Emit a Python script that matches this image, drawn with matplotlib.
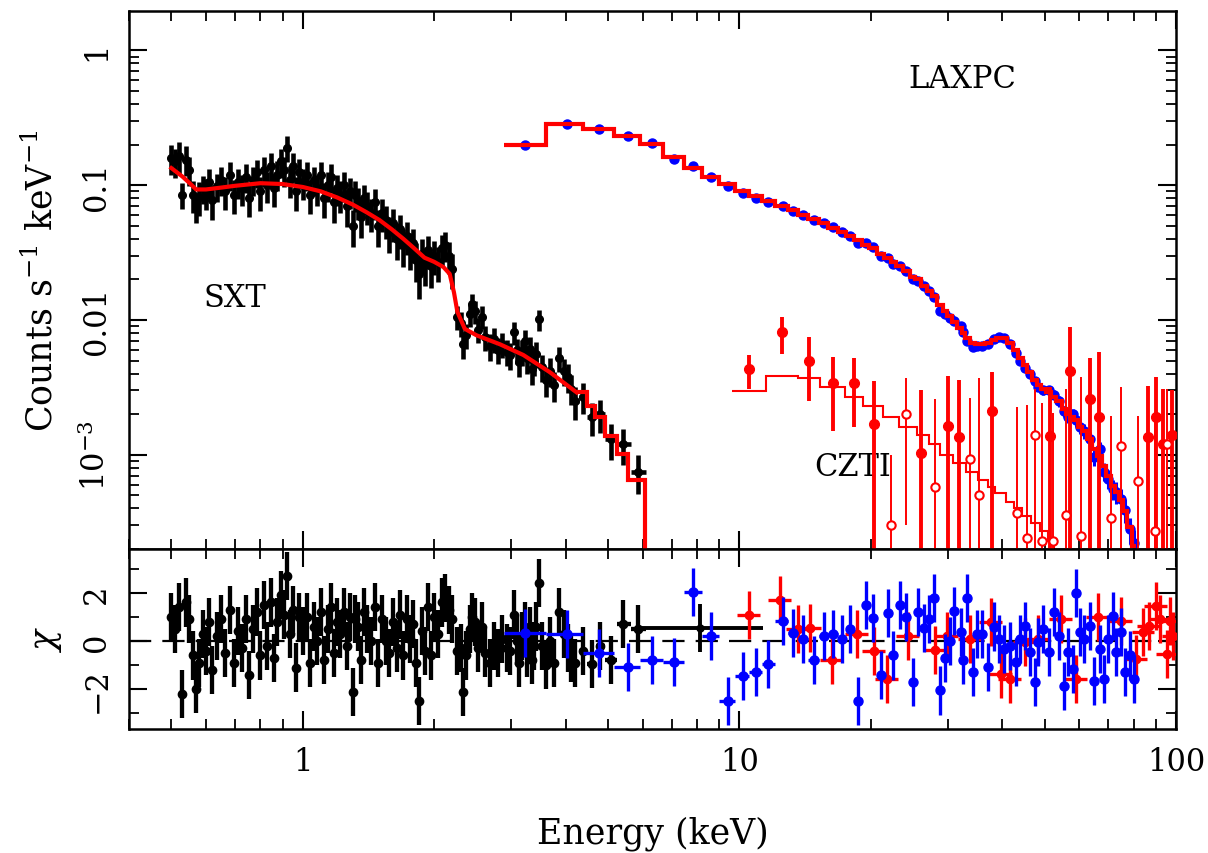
import numpy as np
import matplotlib.pyplot as plt
from matplotlib.ticker import NullFormatter, MultipleLocator

plt.rcParams['font.family'] = 'DejaVu Serif'
plt.rcParams['mathtext.fontset'] = 'dejavuserif'

# ---------------- SXT (black) ----------------
sxt_e = [0.50, 0.51, 0.52, 0.53, 0.54, 0.55, 0.56, 0.57, 0.58, 0.59,
         0.60, 0.61, 0.62, 0.635, 0.65, 0.665, 0.68, 0.695, 0.71, 0.725,
         0.74, 0.755, 0.77, 0.785, 0.80, 0.815, 0.83, 0.845, 0.86, 0.875,
         0.89, 0.905, 0.92, 0.935, 0.95, 0.965, 0.98, 1.00, 1.02, 1.04,
         1.06, 1.08, 1.10, 1.12, 1.14, 1.16, 1.18, 1.20, 1.22, 1.24,
         1.26, 1.28, 1.30, 1.32, 1.34, 1.36, 1.38, 1.40, 1.43, 1.46,
         1.49, 1.52, 1.55, 1.58, 1.61, 1.64, 1.67, 1.70, 1.73, 1.76,
         1.79, 1.82, 1.85, 1.88, 1.91, 1.94, 1.97, 2.00, 2.04, 2.08,
         2.12, 2.16, 2.20,
         2.26, 2.30, 2.33, 2.37, 2.41, 2.44, 2.48, 2.52, 2.57, 2.62,
         2.68, 2.74, 2.80, 2.86, 2.93, 2.99, 3.04, 3.09, 3.13, 3.18,
         3.23, 3.27, 3.31, 3.35, 3.39, 3.43, 3.47, 3.54, 3.61, 3.69,
         3.77, 3.87, 3.96, 4.04, 4.12, 4.20, 4.38, 4.59, 4.79, 5.08,
         5.41, 5.87]
sxt_flux = [0.16, 0.15, 0.165, 0.085, 0.155, 0.13, 0.085, 0.07, 0.082, 0.095,
            0.088, 0.105, 0.078, 0.098, 0.11, 0.09, 0.12, 0.085, 0.105, 0.095,
            0.115, 0.08, 0.11, 0.125, 0.09, 0.13, 0.10, 0.14, 0.095, 0.12,
            0.15, 0.13, 0.19, 0.11, 0.14, 0.09, 0.125, 0.105, 0.12, 0.085,
            0.11, 0.095, 0.12, 0.08, 0.10, 0.115, 0.075, 0.095, 0.085, 0.10,
            0.07, 0.09, 0.05, 0.085, 0.075, 0.058, 0.08, 0.07, 0.062, 0.075,
            0.05, 0.062, 0.055, 0.045, 0.052, 0.04, 0.047, 0.036, 0.042, 0.034,
            0.037, 0.028, 0.022, 0.031, 0.026, 0.033, 0.025, 0.030, 0.027, 0.034,
            0.036, 0.030, 0.024,
            0.0106, 0.0095, 0.0066, 0.0077, 0.0110, 0.0132, 0.0116, 0.0085, 0.0106, 0.0075,
            0.0064, 0.0072, 0.0060, 0.0066, 0.0058, 0.0055, 0.0081, 0.0060, 0.0049, 0.0058,
            0.0070, 0.0052, 0.0061, 0.0043, 0.0050, 0.0056, 0.0101, 0.0045, 0.0036, 0.0042,
            0.0033, 0.0052, 0.0042, 0.0038, 0.0031, 0.0025, 0.0027, 0.0019, 0.0020, 0.0013,
            0.0012, 0.00075]
sxt_relerr = [0.25, 0.24, 0.26, 0.22, 0.25, 0.24, 0.27, 0.25, 0.28, 0.24,
              0.26, 0.25, 0.29, 0.24, 0.25, 0.27, 0.24, 0.28, 0.25, 0.26,
              0.24, 0.27, 0.25, 0.24, 0.28, 0.25, 0.26, 0.24, 0.27, 0.25,
              0.24, 0.25, 0.22, 0.27, 0.24, 0.28, 0.25, 0.26, 0.24, 0.28,
              0.25, 0.26, 0.24, 0.29, 0.25, 0.24, 0.30, 0.26, 0.27, 0.25,
              0.30, 0.26, 0.30, 0.26, 0.27, 0.30, 0.25, 0.27, 0.28, 0.26,
              0.30, 0.27, 0.28, 0.30, 0.27, 0.30, 0.28, 0.31, 0.28, 0.31,
              0.29, 0.32, 0.35, 0.29, 0.31, 0.28, 0.31, 0.28, 0.29, 0.26,
              0.25, 0.27, 0.29,
              0.20, 0.21, 0.22, 0.21, 0.19, 0.18, 0.19, 0.21, 0.19, 0.21,
              0.22, 0.21, 0.22, 0.21, 0.22, 0.22, 0.19, 0.21, 0.23, 0.22,
              0.21, 0.23, 0.22, 0.24, 0.23, 0.22, 0.18, 0.23, 0.25, 0.24,
              0.25, 0.21, 0.23, 0.24, 0.25, 0.27, 0.26, 0.28, 0.27, 0.30,
              0.30, 0.32]
sxt_chi = [1.0, 0.5, 1.4, -2.2, 1.6, 0.9, -0.6, -2.0, -0.9, 0.3,
           -0.4, 0.8, -1.2, 0.2, 0.9, -0.5, 1.3, -0.9, 0.4, -0.3,
           0.9, -1.4, 0.5, 1.2, -0.6, 1.5, -0.2, 1.6, -0.7, 0.8,
           1.9, 1.1, 2.7, 0.3, 1.3, -1.1, 1.0, 0.4, 1.0, -0.9,
           0.6, 0.0, 1.2, -0.8, 0.5, 1.4, -0.5, 0.8, 0.3, 1.2,
           -0.2, 1.0, -2.1, 0.9, 0.6, -0.8, 1.2, 0.5, 0.0, 1.4,
           -0.9, 0.9, 0.0, -0.5, 0.8, -0.3, 1.1, -0.6, 0.9, 0.1,
           0.7, -0.9, -2.5, 0.4, -0.4, 1.4, -0.6, 1.0, 0.3, 1.6,
           1.8, 1.3, 0.9,
           -0.4, -0.3, -2.1, -0.6, 0.5, 1.0, 0.8, -0.3, 0.6, -0.5,
           -0.9, -0.2, -0.5, 0.1, -0.3, -0.4, 1.1, 0.0, -0.9, 0.2,
           0.6, -0.5, 0.4, -0.8, -0.2, 0.6, 2.4, -0.2, -1.0, 0.0,
           -0.9, 1.2, 0.3, -0.3, -0.7, -0.9, -0.4, -0.95, -0.2, -0.8,
           0.7, 0.5]
# last, very wide SXT bin (only seen in the residuals)
sxt_wide_lo, sxt_wide_hi, sxt_wide_chi = 5.85, 11.3, 0.55

sxt_model_e = [0.50, 0.53, 0.55, 0.57, 0.60, 0.65, 0.70, 0.80, 0.90, 1.00,
               1.10, 1.20, 1.30, 1.40, 1.50, 1.60, 1.70, 1.80, 1.90, 2.00,
               2.10, 2.17, 2.22, 2.26, 2.35, 2.50, 2.83, 3.20, 3.68, 4.24]
sxt_model_y = [0.134, 0.116, 0.104, 0.093, 0.093, 0.096, 0.099, 0.1035, 0.102, 0.097,
               0.090, 0.081, 0.072, 0.063, 0.055, 0.047, 0.040, 0.034, 0.029, 0.027,
               0.0247, 0.022, 0.016, 0.0115, 0.0086, 0.0077, 0.0066, 0.0055, 0.0041, 0.0029]
sxt_step_edges = [4.24, 4.47, 4.66, 4.92, 5.25, 5.55, 6.08, 6.3]
sxt_step_y = [0.0029, 0.0023, 0.0019, 0.00138, 0.00102, 0.00065, 1e-7]

# ---------------- LAXPC (blue) ----------------
lax_e = [3.23, 4.03, 4.77, 5.57, 6.3, 7.1, 7.85, 8.6, 9.4, 10.2,
         10.9, 11.6, 12.6, 13.3, 14.0, 14.8, 15.6, 16.4, 17.2, 17.9,
         18.7, 19.5, 20.2, 21.1, 21.9, 22.5, 23.3, 24.1, 25.0, 25.6,
         26.5, 27.2, 27.9, 28.8, 29.6, 30.3, 31.0, 32.1, 32.6, 33.2,
         34.2, 35.1, 36.0, 37.2, 38.2, 39.3, 40.3, 41.7, 42.9, 44.0,
         45.2, 46.2, 47.6, 48.4, 49.7, 51.1, 52.5, 54.0, 55.4, 56.6,
         58.0, 59.1, 60.2, 61.7, 63.5, 65.0, 67.0, 68.3, 69.9, 71.8,
         73.0, 75.0, 76.5, 78.3, 80.0]
lax_flux = [0.200, 0.285, 0.260, 0.233, 0.205, 0.157, 0.138, 0.115, 0.098, 0.087,
            0.080, 0.075, 0.070, 0.064, 0.060, 0.055, 0.052, 0.049, 0.045, 0.042,
            0.037, 0.037, 0.035, 0.030, 0.029, 0.026, 0.025, 0.023, 0.020, 0.0195,
            0.018, 0.0165, 0.0148, 0.0117, 0.0110, 0.0103, 0.0098, 0.0090, 0.0082, 0.0070,
            0.0063, 0.0064, 0.0064, 0.0066, 0.0072, 0.0075, 0.0073, 0.0066, 0.0057, 0.0050,
            0.0044, 0.0040, 0.0035, 0.0032, 0.0030, 0.0030, 0.0028, 0.0025, 0.0021, 0.0019,
            0.0020, 0.0018, 0.0016, 0.0015, 0.0013, 0.00096, 0.0011, 0.00075, 0.00066, 0.00056,
            0.00053, 0.00047, 0.00039, 0.00028, 0.00022]
lax_relerr = [0.02, 0.02, 0.02, 0.02, 0.02, 0.02, 0.02, 0.02, 0.02, 0.02,
              0.02, 0.02, 0.02, 0.02, 0.02, 0.03, 0.03, 0.03, 0.03, 0.03,
              0.03, 0.03, 0.03, 0.03, 0.03, 0.04, 0.04, 0.04, 0.04, 0.04,
              0.05, 0.05, 0.05, 0.05, 0.05, 0.05, 0.05, 0.05, 0.05, 0.05,
              0.05, 0.05, 0.05, 0.05, 0.05, 0.05, 0.05, 0.05, 0.06, 0.06,
              0.06, 0.07, 0.07, 0.07, 0.08, 0.08, 0.08, 0.09, 0.09, 0.10,
              0.10, 0.11, 0.11, 0.12, 0.13, 0.14, 0.14, 0.15, 0.16, 0.17,
              0.18, 0.19, 0.20, 0.22, 0.25]
lax_model = [0.200, 0.285, 0.263, 0.233, 0.202, 0.161, 0.134, 0.116, 0.102, 0.0907,
             0.083, 0.077, 0.070, 0.065, 0.060, 0.056, 0.052, 0.048, 0.045, 0.042,
             0.039, 0.036, 0.034, 0.031, 0.029, 0.027, 0.025, 0.023, 0.021, 0.020,
             0.018, 0.0165, 0.0150, 0.0130, 0.0117, 0.0107, 0.0097, 0.0087, 0.0080, 0.0073,
             0.0068, 0.0066, 0.0066, 0.0068, 0.0071, 0.0073, 0.0073, 0.0068, 0.0060, 0.0052,
             0.0046, 0.0041, 0.0036, 0.0033, 0.0031, 0.0029, 0.0027, 0.0025, 0.0022, 0.0020,
             0.0019, 0.0018, 0.0016, 0.0015, 0.0013, 0.0011, 0.00098, 0.00082, 0.00070, 0.00059,
             0.00053, 0.00046, 0.00038, 0.00029, 0.00021]
lax_chi = [0.33, 0.3, -0.5, -1.07, -0.8, -0.87, 2.05, 0.2, -2.5, -1.45,
           -1.3, -0.95, 0.83, 0.33, 0.1, -0.8, 0.2, 0.3, 0.1, 0.5,
           -2.5, 1.5, 0.95, -1.4, 1.15, -0.6, 1.5, 1.0, -1.7, 1.2,
           0.55, 0.9, 1.8, -2.05, -0.7, 0.0, 1.25, 0.37, -0.8, 1.8,
           -1.3, 0.3, 0.3, -1.07, 0.6, 0.1, -0.33, -0.2, -0.87, 0.08,
           0.62, -0.45, -1.7, -0.05, 0.5, -0.45, 1.2, 0.2, -1.85, -0.45,
           -1.15, 2.0, 0.37, 0.08, 0.62, -1.65, -0.33, -1.57, 0.08, 1.03,
           -0.45, 0.37, -1.3, -0.6, -1.57]

# ---------------- CZTI (red) ----------------
# two CZTI spectra: filled symbols (a) and open symbols (b)
czti_a_e = [10.5, 12.5, 14.4, 16.4, 18.3, 20.3, 26.0, 30.0, 31.8, 37.9,
            51.4, 57.3, 63.4, 66.7, 86.5, 90.0, 93.5, 98.0]
czti_a_flux = [0.0043, 0.0081, 0.0050, 0.0034, 0.0034, 0.0017, 0.00103, 0.00163, 0.00136, 0.0021,
               0.00137, 0.0042, 0.0026, 0.0019, 0.00135, 0.0019, 0.0012, 0.0014]
czti_a_err = [0.0012, 0.0025, 0.0025, 0.0019, 0.0018, 0.0018, 0.0020, 0.0022, 0.0022, 0.0020,
              0.0018, 0.0047, 0.0026, 0.0039, 0.0019, 0.0019, 0.0019, 0.0016]
czti_b_e = [22.2, 24.1, 28.0, 33.7, 35.3, 43.2, 45.5, 47.5, 49.3, 52.4,
            56.0, 60.7, 71.0, 74.9, 82.0, 89.5, 95.5]
czti_b_flux = [0.0003, 0.0020, 0.00058, 0.00093, 0.0005, 0.00037, 0.00024, 0.0014, 0.00023, 0.00023,
               0.00036, 0.00025, 0.00034, 0.00117, 0.00064, 0.00027, 0.0012]
czti_b_err = [0.0007, 0.0017, 0.0020, 0.0017, 0.0032, 0.0019, 0.0021, 0.0017, 0.0022, 0.0018,
              0.0027, 0.0035, 0.0016, 0.0020, 0.0013, 0.0016, 0.0019]
czti_model_edges = [9.63, 11.5, 13.6, 15.3, 17.5, 19.2, 21.3, 23.2, 25.5, 27.2, 28.8, 30.8,
                    33.0, 35.2, 37.1, 38.6, 40.7, 42.5, 44.5, 46.5, 48.8, 50.8, 52.5, 54.5]
czti_model_y = [0.00295, 0.00382, 0.0037, 0.0032, 0.0027, 0.0023, 0.0019, 0.0016, 0.0014, 0.0012,
                0.0010, 0.00087, 0.00075, 0.00065, 0.00058, 0.00052, 0.00045, 0.00040, 0.00035,
                0.00031, 0.00027, 0.00023, 0.00019]
czti_res_e = [10.5, 12.4, 13.6, 14.5, 16.3, 18.6, 20.3, 21.8, 24.3, 28.1,
              29.9, 33.7, 37.6, 39.7, 41.7, 45.0, 48.4, 54.5, 59.1, 66.3,
              74.9, 80.9, 84.2, 86.8, 89.8, 92.0, 95.5, 97.0, 98.6]
czti_res_chi = [1.07, 1.7, 0.5, 0.55, -0.8, 0.3, -0.4, -1.57, 0.2, -0.37,
                0.2, 0.08, 0.78, -1.36, -1.57, -0.05, 0.08, 0.9, -1.57, 1.0,
                0.83, -0.75, 0.37, 0.62, 1.45, 0.9, -0.54, 0.83, 0.2]
CZTI_BIN_FRAC = 0.06


def log_edges(e):
    e = np.asarray(e, float)
    mid = np.sqrt(e[:-1] * e[1:])
    return np.concatenate([[e[0] ** 2 / mid[0]], mid, [e[-1] ** 2 / mid[-1]]])


def halfwidths(e):
    e = np.asarray(e, float)
    ed = log_edges(e)
    return [e - ed[:-1], ed[1:] - e]


def log_err(flux, err):
    flux = np.asarray(flux, float)
    err = np.asarray(err, float)
    return [np.minimum(err, flux * 0.9999), err]


fig = plt.figure(figsize=(12.08, 8.54), dpi=100)
ax = fig.add_axes([0.1068, 0.356, 0.8667, 0.6299])
axr = fig.add_axes([0.1068, 0.1452, 0.8667, 0.2108], sharex=ax)

# ---- spectra ----
sxt_f = np.array(sxt_flux)
ax.errorbar(sxt_e, sxt_f, yerr=sxt_f * np.array(sxt_relerr), xerr=halfwidths(sxt_e),
            fmt='o', ms=5.5, color='k', elinewidth=3.3, capsize=0, zorder=2)
ax.plot(sxt_model_e, sxt_model_y, color='red', lw=3, zorder=3)
ax.stairs(sxt_step_y, sxt_step_edges, baseline=None, color='red', lw=3, zorder=3)

lax_f = np.array(lax_flux)
ax.errorbar(lax_e, lax_f, yerr=lax_f * np.array(lax_relerr), fmt='o', ms=6.5,
            color='blue', elinewidth=2.2, capsize=0, zorder=2)
ax.stairs(lax_model, log_edges(lax_e), baseline=None, color='red', lw=3, zorder=3)

ax.stairs(czti_model_y, czti_model_edges, baseline=None, color='red', lw=1.5, zorder=1)
ax.errorbar(czti_a_e, czti_a_flux, yerr=log_err(czti_a_flux, czti_a_err), fmt='o', ms=7,
            color='red', elinewidth=2.8, capsize=0, zorder=4)
ax.errorbar(czti_b_e, czti_b_flux, yerr=log_err(czti_b_flux, czti_b_err), fmt='o', ms=6,
            mfc='white', mec='red', mew=1.5, color='red', elinewidth=1.4, capsize=0, zorder=4)

ax.text(0.70, 0.0148, 'SXT', fontsize=22, ha='center', va='center')
ax.text(32.4, 0.616, 'LAXPC', fontsize=22, ha='center', va='center')
ax.text(18.2, 8.2e-4, 'CZTI', fontsize=22, ha='center', va='center')

# ---- residuals ----
axr.axhline(0, color='k', lw=1.6, ls=(0, (10, 5)), zorder=1)
axr.errorbar(sxt_e, sxt_chi, yerr=1, xerr=halfwidths(sxt_e), fmt='o', ms=6,
             color='k', elinewidth=3.1, capsize=0, zorder=2)
wide_c = np.sqrt(sxt_wide_lo * sxt_wide_hi)
axr.errorbar([wide_c], [sxt_wide_chi], yerr=1,
             xerr=[[wide_c - sxt_wide_lo], [sxt_wide_hi - wide_c]],
             fmt='o', ms=5, color='k', elinewidth=2.8, capsize=0, zorder=2)
cz_e = np.array(czti_res_e)
axr.errorbar(cz_e, czti_res_chi, yerr=1, xerr=cz_e * CZTI_BIN_FRAC, fmt='o', ms=6,
             color='red', elinewidth=2.4, capsize=0, zorder=3)
axr.errorbar(lax_e, lax_chi, yerr=1, xerr=halfwidths(lax_e), fmt='o', ms=6.5,
             color='blue', elinewidth=2.4, capsize=0, zorder=4)

# ---- axes ----
ax.set_xscale('log')
ax.set_yscale('log')
ax.set_xlim(0.4, 100)
ax.set_ylim(2.0e-4, 1.96)
ax.set_yticks([1e-3, 1e-2, 0.1, 1], ['$10^{-3}$', '0.01', '0.1', '1'])
ax.yaxis.set_minor_formatter(NullFormatter())
axr.set_xticks([1, 10, 100], ['1', '10', '100'])
axr.xaxis.set_minor_formatter(NullFormatter())
axr.set_ylim(-3.65, 3.82)
axr.set_yticks([-2, 0, 2])
axr.yaxis.set_minor_locator(MultipleLocator(1))

for a in (ax, axr):
    a.tick_params(which='major', direction='in', length=13, width=1.5,
                  top=True, right=True, labelsize=22, pad=12)
    a.tick_params(which='minor', direction='in', length=7, width=1.3,
                  top=True, right=True)
    a.tick_params(axis='y', labelrotation=90)
    for lbl in a.get_yticklabels():
        lbl.set_va('center')
    for s in a.spines.values():
        s.set_linewidth(1.8)
ax.tick_params(labelbottom=False)

ax.set_ylabel('Counts s$^{-1}$ keV$^{-1}$', fontsize=25)
ax.yaxis.set_label_coords(-0.066, 0.5)
axr.set_ylabel('$\\chi$', fontsize=25)
axr.yaxis.set_label_coords(-0.062, 0.5)
axr.set_xlabel('Energy (keV)', fontsize=25)
axr.xaxis.set_label_coords(0.5, -0.48)

fig.savefig('out.png', dpi=100)
